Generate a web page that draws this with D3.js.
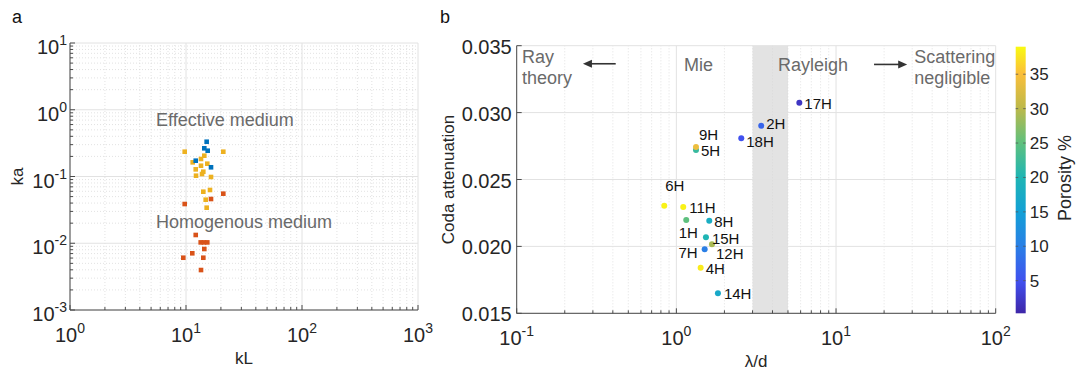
<!DOCTYPE html>
<html>
<head>
<meta charset="utf-8">
<script src="https://cdn.jsdelivr.net/npm/d3@7"></script>
<style>
  html, body { margin: 0; padding: 0; background: #fff; }
  svg { display: block; font-family: "Liberation Sans", Arial, Helvetica, sans-serif; }
</style>
</head>
<body>
<svg id="chart" width="1076" height="373"></svg>
<script>
// ---------------- DATA ----------------
// Panel a: [kL, ka]
const effectiveBlue = [[15.07,0.332],[14.38,0.2645],[15.38,0.2434],[12.13,0.1725],[16.43,0.1374]];
const effectiveYellow = [[9.745,0.2352],[20.97,0.2352],[14.38,0.205],[13.47,0.183],[11.42,0.163],[15.26,0.1555],
  [13.47,0.145],[12.13,0.128],[14.10,0.118],[13.74,0.109],[12.20,0.1028],[16.43,0.0983],
  [14.10,0.0592],[16.10,0.0628],[14.78,0.0449],[15.07,0.0341]];
const homogenousRed = [[20.97,0.0553],[16.43,0.046],[9.745,0.0387],[12.13,0.0133],[13.39,0.0103],[14.29,0.0103],
  [15.26,0.0103],[14.38,0.0082],[11.33,0.00707],[9.478,0.00607],[14.10,0.00607],[13.47,0.00397]];
const panelAXTicks = [1, 10, 100, 1000];
const panelAXTickExp = ["0", "1", "2", "3"];
const panelAYTicks = [0.001, 0.01, 0.1, 1, 10];
const panelAYTickExp = ["-3", "-2", "-1", "0", "1"];

// Panel b
const sampleNames = ["17H","2H","18H","5H","9H","6H","11H","1H","8H","15H","12H","7H","4H","14H"];
const lambdaOverD = [5.89, 3.40, 2.55, 1.327, 1.327, 0.840, 1.104, 1.153, 1.607, 1.532, 1.671, 1.504, 1.419, 1.821];
const codaAttenuation = [0.03074, 0.02902, 0.02808, 0.02720, 0.02743, 0.02304, 0.02295, 0.02197, 0.02192, 0.02068, 0.02016, 0.01978, 0.01841, 0.01650];
const porosity = [2, 7, 5, 22, 34, 38.5, 38.5, 25, 18, 20, 29, 10, 38, 17];
const panelBXTicks = [0.1, 1, 10, 100];
const panelBXTickExp = ["-1", "0", "1", "2"];
const panelBYTicks = [0.015, 0.020, 0.025, 0.030, 0.035];
const colorbarTicks = [5, 10, 15, 20, 25, 30, 35];
const porosityRange = [0.26, 39];
const rayleighBand = [3, 5];

// label placement (pixel offsets relative to point)
const labelPlacement = {
  "17H":[5,1,"start"], "2H":[5,-2,"start"], "18H":[5,3,"start"], "9H":[3,-12,"start"], "5H":[5,1,"start"],
  "6H":[1,-20,"start"], "11H":[6,1,"start"], "1H":[2,13,"middle"], "8H":[5,1,"start"], "15H":[6,1,"start"],
  "12H":[4,9,"start"], "7H":[-7,3,"end"], "4H":[5,1,"start"], "14H":[6,1,"start"]
};

// parula-like colormap stops [fraction, colour]
const parulaPos = [0, 0.12, 0.25, 0.38, 0.51, 0.64, 0.77, 0.90, 1];
const parulaStops = ["#3e26a8","#4150ef","#2a7fe6","#13a0d6","#1fb5b4","#5fc07d","#bdb94a","#fbbf3a","#f9fa12"];

// ---------------- DRAW ----------------
const svg = d3.select("#chart");
const axisColor = "#4a4a4a";
const textColor = "#262626";
const gridMajor = "#e2e2e2";
const gridMinor = "#dadada";
const annColor = "#6a6a6a";

function logMinors(lo, hi) {
  const out = [];
  for (let e = Math.round(Math.log10(lo)); e < Math.round(Math.log10(hi)); e++)
    for (let m = 2; m <= 9; m++) out.push(m * Math.pow(10, e));
  return out;
}

// ===== Panel a =====
const ax = d3.scaleLog().domain([1, 1000]).range([70, 418]);
const ay = d3.scaleLog().domain([0.001, 10]).range([310, 43]);
const ga = svg.append("g");

// grid
ga.selectAll(".xminor").data(logMinors(1, 1000)).join("line")
  .attr("x1", d => ax(d)).attr("x2", d => ax(d)).attr("y1", ay(0.001)).attr("y2", ay(10))
  .attr("stroke", gridMinor).attr("stroke-width", 0.8).attr("stroke-dasharray", "1,2");
ga.selectAll(".yminor").data(logMinors(0.001, 10)).join("line")
  .attr("y1", d => ay(d)).attr("y2", d => ay(d)).attr("x1", ax(1)).attr("x2", ax(1000))
  .attr("stroke", gridMinor).attr("stroke-width", 0.8).attr("stroke-dasharray", "1,2");
ga.selectAll(".xmajor").data(panelAXTicks).join("line")
  .attr("x1", d => ax(d)).attr("x2", d => ax(d)).attr("y1", ay(0.001)).attr("y2", ay(10))
  .attr("stroke", gridMajor).attr("stroke-width", 1);
ga.selectAll(".ymajor").data(panelAYTicks).join("line")
  .attr("y1", d => ay(d)).attr("y2", d => ay(d)).attr("x1", ax(1)).attr("x2", ax(1000))
  .attr("stroke", gridMajor).attr("stroke-width", 1);

// axes (inward ticks)
const gAX = ga.append("g").attr("transform", `translate(0,${ay(0.001)})`);
gAX.append("line").attr("x1", ax(1)).attr("x2", ax(1000)).attr("stroke", axisColor);
gAX.selectAll(".t").data(panelAXTicks).join("line").attr("x1", d => ax(d)).attr("x2", d => ax(d)).attr("y1", 0).attr("y2", -5).attr("stroke", axisColor);
gAX.selectAll(".tm").data(logMinors(1,1000)).join("line").attr("x1", d => ax(d)).attr("x2", d => ax(d)).attr("y1", 0).attr("y2", -3).attr("stroke", axisColor);
const gAY = ga.append("g").attr("transform", `translate(${ax(1)},0)`);
gAY.append("line").attr("y1", ay(0.001)).attr("y2", ay(10)).attr("stroke", axisColor);
gAY.selectAll(".t").data(panelAYTicks).join("line").attr("y1", d => ay(d)).attr("y2", d => ay(d)).attr("x1", 0).attr("x2", 5).attr("stroke", axisColor);
gAY.selectAll(".tm").data(logMinors(0.001,10)).join("line").attr("y1", d => ay(d)).attr("y2", d => ay(d)).attr("x1", 0).attr("x2", 3).attr("stroke", axisColor);

// tick labels
panelAXTicks.forEach((v, i) => {
  const t = ga.append("text").attr("x", ax(v)).attr("y", ay(0.001) + 32).attr("text-anchor", "middle")
    .attr("fill", textColor).attr("font-size", 20);
  t.append("tspan").text("10");
  t.append("tspan").attr("dy", -9).attr("font-size", 14).text(panelAXTickExp[i]);
});
panelAYTicks.forEach((v, i) => {
  const t = ga.append("text").attr("x", ax(1) - 3).attr("y", ay(v) + 11).attr("text-anchor", "end")
    .attr("fill", textColor).attr("font-size", 20);
  t.append("tspan").text("10");
  t.append("tspan").attr("dy", -9).attr("font-size", 14).text(panelAYTickExp[i]);
});
ga.append("text").attr("x", (ax(1)+ax(1000))/2).attr("y", 364).attr("text-anchor", "middle")
  .attr("fill", textColor).attr("font-size", 17).text("kL");
ga.append("text").attr("transform", `translate(23,${(ay(0.001)+ay(10))/2}) rotate(-90)`).attr("text-anchor", "middle")
  .attr("fill", textColor).attr("font-size", 17).text("ka");

// annotations
ga.append("text").attr("x", ax(5.51)).attr("y", ay(0.702)).attr("dy", "0.35em").attr("fill", annColor).attr("font-size", 18).text("Effective medium");
ga.append("text").attr("x", ax(5.51)).attr("y", ay(0.02104)).attr("dy", "0.35em").attr("fill", annColor).attr("font-size", 18).text("Homogenous medium");

// markers
const sq = 4.6;
function squares(data, color) {
  ga.append("g").selectAll("rect").data(data).join("rect")
    .attr("x", d => ax(d[0]) - sq/2).attr("y", d => ay(d[1]) - sq/2)
    .attr("width", sq).attr("height", sq).attr("fill", color);
}
squares(homogenousRed, "#D95319");
squares(effectiveYellow, "#EDB120");
squares(effectiveBlue, "#0072BD");

svg.append("text").attr("x", 12).attr("y", 23).attr("fill", "#111").attr("font-size", 18).text("a");

// ===== Panel b =====
const bx = d3.scaleLog().domain([0.1, 100]).range([516.7, 995.7]);
const by = d3.scaleLinear().domain([0.015, 0.035]).range([313.3, 45.7]);
const gb = svg.append("g");
const parula = d3.scaleLinear().domain(parulaPos).range(parulaStops).interpolate(d3.interpolateRgb);
const cScale = d3.scaleLinear().domain(porosityRange).range([0, 1]).clamp(true);
const colorOf = v => parula(cScale(v));

// Rayleigh band
gb.append("rect").attr("x", bx(rayleighBand[0])).attr("y", by(0.035))
  .attr("width", bx(rayleighBand[1]) - bx(rayleighBand[0])).attr("height", by(0.015) - by(0.035))
  .attr("fill", "#e3e3e3");

// grid
gb.selectAll(".xminor").data(logMinors(0.1, 100)).join("line")
  .attr("x1", d => bx(d)).attr("x2", d => bx(d)).attr("y1", by(0.015)).attr("y2", by(0.035))
  .attr("stroke", gridMinor).attr("stroke-width", 0.8).attr("stroke-dasharray", "1,2");
gb.selectAll(".xmajor").data(panelBXTicks).join("line")
  .attr("x1", d => bx(d)).attr("x2", d => bx(d)).attr("y1", by(0.015)).attr("y2", by(0.035))
  .attr("stroke", gridMajor);
gb.selectAll(".ymajor").data(panelBYTicks).join("line")
  .attr("y1", d => by(d)).attr("y2", d => by(d)).attr("x1", bx(0.1)).attr("x2", bx(100))
  .attr("stroke", gridMajor);

// axes
const gBX = gb.append("g").attr("transform", `translate(0,${by(0.015)})`);
gBX.append("line").attr("x1", bx(0.1)).attr("x2", bx(100)).attr("stroke", axisColor);
gBX.selectAll(".t").data(panelBXTicks).join("line").attr("x1", d => bx(d)).attr("x2", d => bx(d)).attr("y1", 0).attr("y2", -5).attr("stroke", axisColor);
gBX.selectAll(".tm").data(logMinors(0.1,100)).join("line").attr("x1", d => bx(d)).attr("x2", d => bx(d)).attr("y1", 0).attr("y2", -3).attr("stroke", axisColor);
const gBY = gb.append("g").attr("transform", `translate(${bx(0.1)},0)`);
gBY.append("line").attr("y1", by(0.015)).attr("y2", by(0.035)).attr("stroke", axisColor);
gBY.selectAll(".t").data(panelBYTicks).join("line").attr("y1", d => by(d)).attr("y2", d => by(d)).attr("x1", 0).attr("x2", 5).attr("stroke", axisColor);

panelBXTicks.forEach((v, i) => {
  const t = gb.append("text").attr("x", bx(v)).attr("y", by(0.015) + 32).attr("text-anchor", "middle")
    .attr("fill", textColor).attr("font-size", 20);
  t.append("tspan").text("10");
  t.append("tspan").attr("dy", -9).attr("font-size", 14).text(panelBXTickExp[i]);
});
gb.selectAll(".ylab").data(panelBYTicks).join("text")
  .attr("x", bx(0.1) - 5).attr("y", d => by(d) + 8).attr("text-anchor", "end")
  .attr("fill", textColor).attr("font-size", 20).text(d => d3.format(".3f")(d));

gb.append("text").attr("x", (bx(0.1)+bx(100))/2).attr("y", 367).attr("text-anchor", "middle")
  .attr("fill", textColor).attr("font-size", 17).text("λ/d");
gb.append("text").attr("transform", `translate(454,${(by(0.015)+by(0.035))/2}) rotate(-90)`).attr("text-anchor", "middle")
  .attr("fill", textColor).attr("font-size", 17).text("Coda attenuation");

// annotations
function ann(txt, xv, yv, anchor) {
  gb.append("text").attr("x", bx(xv)).attr("y", by(yv)).attr("dy", "0.35em").attr("text-anchor", anchor || "start")
    .attr("fill", annColor).attr("font-size", 18).text(txt);
}
ann("Ray", 0.108, 0.03418);
ann("theory", 0.108, 0.03261);
ann("Mie", 1.375, 0.03361, "middle");
ann("Rayleigh", 4.33, 0.03356);
ann("Scattering", 30.9, 0.03418);
ann("negligible", 30.9, 0.03261);

function arrow(x1, x2, yv) {
  const X1 = bx(x1), X2 = bx(x2), Y = by(yv);
  const dir = Math.sign(X2 - X1);
  gb.append("line").attr("x1", X1).attr("x2", X2 - dir*6).attr("y1", Y).attr("y2", Y)
    .attr("stroke", "#333").attr("stroke-width", 1.6);
  gb.append("path").attr("d", `M${X2},${Y} L${X2 - dir*9},${Y-4} L${X2 - dir*9},${Y+4} Z`).attr("fill", "#333");
}
arrow(0.417, 0.26, 0.03365);
arrow(17.3, 27.9, 0.03360);

// points
const pts = sampleNames.map((n, i) => ({ name: n, x: lambdaOverD[i], y: codaAttenuation[i], p: porosity[i] }));
gb.append("g").selectAll("circle").data(pts).join("circle")
  .attr("cx", d => bx(d.x)).attr("cy", d => by(d.y)).attr("r", 3)
  .attr("fill", d => colorOf(d.p));
gb.append("g").selectAll("text").data(pts).join("text")
  .attr("x", d => bx(d.x) + labelPlacement[d.name][0])
  .attr("y", d => by(d.y) + labelPlacement[d.name][1])
  .attr("dy", "0.35em").attr("text-anchor", d => labelPlacement[d.name][2])
  .attr("fill", "#111").attr("font-size", 15).text(d => d.name);

svg.append("text").attr("x", 440).attr("y", 23).attr("fill", "#111").attr("font-size", 18).text("b");

// ===== Colorbar =====
const cbX = 1015.7, cbW = 10;
const cy = d3.scaleLinear().domain(porosityRange).range([313.3, 46.7]);
const defs = svg.append("defs");
const grad = defs.append("linearGradient").attr("id", "parula").attr("x1", 0).attr("y1", 1).attr("x2", 0).attr("y2", 0);
parulaStops.forEach((c, i) => grad.append("stop").attr("offset", parulaPos[i]).attr("stop-color", c));
svg.append("rect").attr("x", cbX).attr("y", cy(porosityRange[1])).attr("width", cbW)
  .attr("height", cy(porosityRange[0]) - cy(porosityRange[1])).attr("fill", "url(#parula)");
const gc = svg.append("g");
gc.selectAll(".tl").data(colorbarTicks).join("line").attr("x1", cbX).attr("x2", cbX + 2.5)
  .attr("y1", d => cy(d)).attr("y2", d => cy(d)).attr("stroke", "#555").attr("stroke-width", 0.8);
gc.selectAll(".tr").data(colorbarTicks).join("line").attr("x1", cbX + cbW - 2.5).attr("x2", cbX + cbW)
  .attr("y1", d => cy(d)).attr("y2", d => cy(d)).attr("stroke", "#555").attr("stroke-width", 0.8);
gc.selectAll("text").data(colorbarTicks).join("text").attr("x", cbX + cbW + 4).attr("y", d => cy(d))
  .attr("dy", "0.35em").attr("fill", textColor).attr("font-size", 17).text(d => d);
svg.append("text").attr("transform", `translate(1071,${(cy(porosityRange[0]) + cy(porosityRange[1]))/2 - 2}) rotate(-90)`)
  .attr("text-anchor", "middle").attr("fill", textColor).attr("font-size", 18).text("Porosity %");
</script>
</body>
</html>
